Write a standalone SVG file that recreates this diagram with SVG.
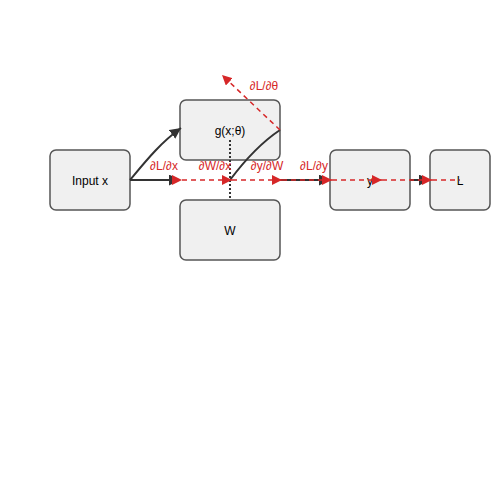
<svg xmlns="http://www.w3.org/2000/svg" width="500" height="500" viewBox="0 0 500 500">
<style>
.node rect{fill:#f0f0f0;stroke:#555;stroke-width:1.5}
.node text{font-family:"Liberation Sans",Arial,sans-serif;font-size:12px;fill:#000;text-anchor:middle}
.fw{fill:none;stroke:#333;stroke-width:2}
.dot{fill:none;stroke:#333;stroke-width:2;stroke-dasharray:2,2}
.bw{fill:none;stroke:#d62728;stroke-width:1.5;stroke-dasharray:5,4}
.lbl{font-family:"Liberation Sans",Arial,sans-serif;font-size:12px;fill:#d62728;text-anchor:middle}
</style>
<defs>
<marker id="ab" viewBox="0 0 10 10" refX="10" refY="5" markerWidth="11" markerHeight="11" markerUnits="userSpaceOnUse" orient="auto"><path d="M0,0L10,5L0,10z" fill="#333"/></marker>
<marker id="ar" viewBox="0 0 10 10" refX="10" refY="5" markerWidth="10" markerHeight="10" markerUnits="userSpaceOnUse" orient="auto"><path d="M0,0L10,5L0,10z" fill="#d62728"/></marker>
</defs>
<rect width="500" height="500" fill="#fff"/>
<g id="node-input" class="node"><rect x="50" y="150" width="80" height="60" rx="6"/><text x="90" y="185">Input x</text></g>
<g id="node-g" class="node"><rect x="180" y="100" width="100" height="60" rx="6"/><text x="230" y="135">g(x;θ)</text></g>
<g id="node-W" class="node"><rect x="180" y="200" width="100" height="60" rx="6"/><text x="230" y="235">W</text></g>
<g id="node-y" class="node"><rect x="330" y="150" width="80" height="60" rx="6"/><text x="370" y="185">y</text></g>
<g id="node-L" class="node"><rect x="430" y="150" width="60" height="60" rx="6"/><text x="460" y="185">L</text></g>
<g id="connectors">
<path class="fw" d="M130,180 C145,162 160,143 181,128" marker-end="url(#ab)"/>
<path class="fw" d="M130,180 L180,180" marker-end="url(#ab)"/>
<path class="fw" d="M230,180 C248,156 262,142 280,130"/>
<path class="dot" d="M230,140 L230,198"/>
<path class="fw" d="M280,180 L330,180" marker-end="url(#ab)"/>
<path class="fw" d="M410,180 L430,180" marker-end="url(#ab)"/>
<path class="bw" d="M174,180 L182,180" marker-end="url(#ar)"/>
<path class="bw" d="M182,180 L232,180" marker-end="url(#ar)"/>
<path class="bw" d="M232,180 L282,180" marker-end="url(#ar)"/>
<path class="bw" d="M282,180 L332,180" marker-end="url(#ar)"/>
<path class="bw" d="M332,180 L382,180" marker-end="url(#ar)"/>
<path class="bw" d="M382,180 L432,180" marker-end="url(#ar)"/>
<path class="bw" d="M432,180 L460,180"/>
<path class="bw" d="M280,130 L222,75" marker-end="url(#ar)"/>
<text class="lbl" x="264" y="90">∂L/∂θ</text>
<text class="lbl" x="164" y="170">∂L/∂x</text>
<text class="lbl" x="215" y="170">∂W/∂x</text>
<text class="lbl" x="267" y="170">∂y/∂W</text>
<text class="lbl" x="314" y="170">∂L/∂y</text>
</g>
</svg>
